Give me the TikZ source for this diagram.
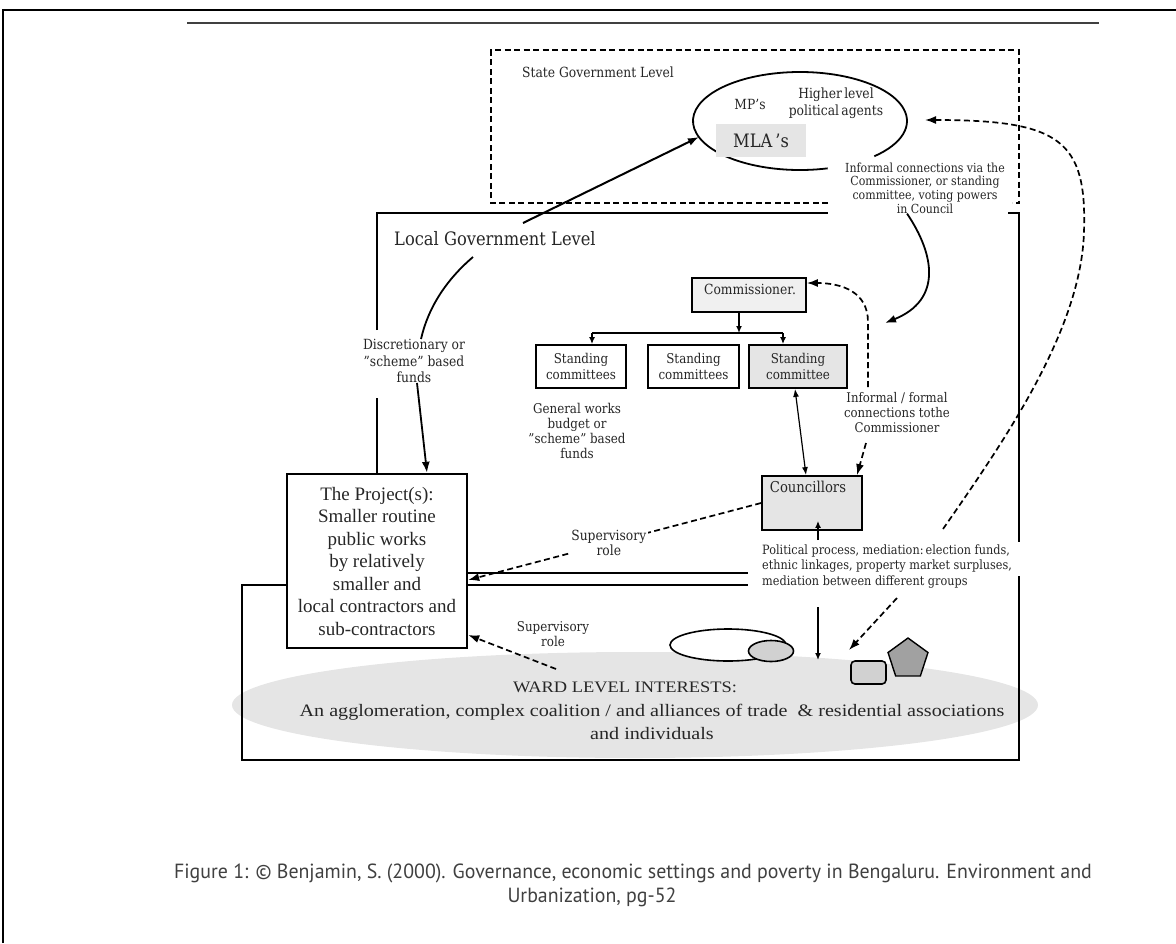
\documentclass[tikz,border=0pt]{standalone}
\usepackage{fontspec}
\setmainfont{DejaVu Serif}[FakeStretch=0.88]
\newfontfamily\timesf{Liberation Serif}
\newfontfamily\timesw{Liberation Serif}[FakeStretch=1.15]
\newfontfamily\capf{PT Sans}[FakeStretch=0.97]
\usetikzlibrary{arrows.meta,shapes.geometric}
\newcommand\fsz[2]{\fontsize{#1}{#2}\selectfont}
\definecolor{txt}{gray}{0.15}
\definecolor{lgray}{gray}{0.90}
\definecolor{mgray}{gray}{0.82}
\definecolor{dgray}{gray}{0.63}
\tikzset{
  every node/.style={inner sep=0pt, text=txt},
  thickln/.style={line width=2.4pt},
  thinln/.style={line width=1.5pt},
  dsh/.style={dashed, dash pattern=on 6pt off 3.5pt, line width=1.7pt},
  arr/.style={-{Latex[length=11pt,width=8pt]}},
  sarr/.style={-{Latex[length=7pt,width=6pt]}},
  cbox/.style={draw, line width=1.8pt, minimum height=43pt, align=center, font=\fsz{13.5}{16}},
}
\begin{document}
\begin{tikzpicture}[x=1pt,y=-1pt]
\useasboundingbox (0,0) rectangle (1176,943);
% outer frame and rule
\draw[line width=2pt] (3,943) -- (3,10) -- (1176,10);
\draw[line width=2.2pt, black!75] (187,23) -- (1099,23);

% ward ellipse (background)
\node[ellipse, fill=lgray, minimum width=806pt, minimum height=106pt] (ward) at (635,705) {};

% state government dashed box
\draw[dsh] (828,203) -- (491,203) -- (491,50) -- (1019,50) -- (1019,203) -- (1012,203);
\node[anchor=west, font=\fsz{14}{16}] (stl) at (522,72) {State Government Level};

% MP/MLA ellipse
\coordinate (ell) at (800,121);
\draw[line width=1.8pt] ([shift={(75:107 and 49)}]ell) arc[start angle=75, end angle=406, x radius=107, y radius=49];
\node[font=\fsz{14}{16}] (mp) at (750,104) {MP's};
\node[align=center, font=\fsz{14}{17}] (hla) at (836,103) {Higher\,level\\political\,agents};
\node[fill=lgray, minimum width=90pt, minimum height=33pt, font=\fsz{18.5}{20}] (mla) at (761,140.5) {MLA\,'s};
\node[align=center, font=\fsz{12.5}{13.7}] (infc) at (925,188) {Informal connections via the\\Commissioner, or standing\\committee, voting powers\\in Council};

% local government box
\draw[thickln] (377,330) -- (377,213) -- (828,213);
\draw[thickln] (1008,213) -- (1019,213) -- (1019,542);
\draw[thickln] (377,398) -- (377,474);
\draw[thickln] (467,573) -- (748,573);
\node[anchor=west, font=\fsz{18.5}{20}] (lgl) at (394,239) {Local Government Level};

% ward box
\draw[thinln] (287,585) -- (242,585) -- (242,760) -- (1019,760) -- (1019,576);
\draw[thinln] (467,585) -- (748,585);

% MLA arrow
\coordinate (m0) at (523,223);
\coordinate (ma) at (699,137);
\draw[line width=2pt, arr] (m0) -- (ma);

% Discretionary
\node[align=center, font=\fsz{14}{16.5}] (disc) at (414,361) {Discretionary or\\"scheme" based\\funds};
\coordinate (dc1) at (473,257);
\draw[line width=1.8pt] (dc1) .. controls (446,280) and (428,308) .. ([xshift=7pt]disc.north);

% project box
\node[draw, line width=2.4pt, minimum width=180pt, minimum height=174pt, align=center, font=\timesf\fsz{19}{22.5}] (proj) at (377,561)
 {The Project(s):\\Smaller routine\\public works\\by relatively\\smaller and\\local contractors and\\sub-contractors};
\draw[line width=1.8pt, arr] ([xshift=3pt]disc.south) -- ([xshift=50pt]proj.north);

% commissioner and committees
\node[draw, fill=gray!12, line width=1.6pt, minimum width=114pt, minimum height=34pt] (comm) at (749,295) {};
\node[font=\fsz{14}{16}] (commt) at (750,289) {Commissioner.};
\node[cbox, minimum width=90pt] (sc1) at (581,366.5) {Standing\\committees};
\node[cbox, minimum width=91pt] (sc2) at (693.5,366.5) {Standing\\committees};
\node[cbox, minimum width=98pt, fill=lgray] (sc3) at (798,366.5) {Standing\\committee};
\coordinate (tr) at (739,333);
\coordinate (trl) at (592,333);
\coordinate (trr) at (783,333);
\draw[line width=1.6pt, sarr] (tr |- comm.south) -- (tr);
\draw[line width=1.6pt] (trl) -- (trr);
\draw[line width=1.6pt, sarr] (trl) -- (trl |- sc1.north);
\draw[line width=1.6pt, sarr] (trr) -- (trr |- sc3.north);
\node[align=center, font=\fsz{13.5}{15.3}] (gw) at (577,431) {General works\\budget or\\"scheme" based\\funds};

% councillors
\node[draw, fill=lgray, line width=1.8pt, minimum width=100pt, minimum height=54pt] (coun) at (812,503) {};
\node[font=\fsz{15}{17}] (count) at (808,487) {Councillors};
\draw[line width=1.2pt, {Latex[length=8pt,width=6pt]}-{Latex[length=8pt,width=6pt]}] ([xshift=-3pt]sc3.south) -- ([xshift=-6pt]coun.north);

% informal / formal connections
\node[align=center, font=\fsz{13.3}{15}] (iff) at (897,413) {Informal / formal\\connections tothe\\Commissioner};
\coordinate (d1) at (868,387);
\draw[dsh, arr] (d1) -- (868,322) .. controls (868,292) and (842,283) .. ([yshift=12pt]comm.east);
\coordinate (d2) at (866,443);
\draw[dsh, arr] (d2) -- ([xshift=45pt]coun.north);
% curve from informal connections (state) to the committees
\coordinate (ic) at (885,323);
\draw[line width=1.8pt, arr] ([xshift=-18pt]infc.south) .. controls (935,255) and (942,300) .. (ic);

% supervisory role (upper)
\draw[dsh, arr] (coun.west) -- ([yshift=-19pt]proj.east)
  node[pos=0.52, fill=white, inner sep=2pt, align=center, font=\fsz{14}{15}] (sup1) {Supervisory\\role};

% political process
\node[anchor=west, align=left, font=\fsz{12.8}{15.5}] (pp) at (762,566.5) {Political process, mediation:\,election funds,\\ethnic linkages, property market\ surpluses,\\mediation between different groups};
\coordinate (pp1) at (818,540);
\draw[line width=1.6pt, sarr] (pp1) -- ([xshift=6pt,yshift=10pt]coun.south);
\coordinate (pp2) at (818,607);
\coordinate (wd) at (818,660);
\draw[line width=1.4pt, sarr] (pp2) -- (wd);
\coordinate (pd) at (897,598);
\coordinate (pq) at (849,650);
\draw[dsh, arr] (pd) -- (pq);

% long dashed curve to the MP/MLA ellipse
\coordinate (lc) at (943,529);
\coordinate (ee) at (925,120);
\draw[dsh, arr] (lc) .. controls (1005,440) and (1081,330) .. (1084,232) .. controls (1087,140) and (1060,120) .. (ee);

% small shapes
\node[ellipse, draw, fill=white, line width=1.6pt, minimum width=116pt, minimum height=32pt] (we) at (728,645) {};
\node[ellipse, draw, fill=mgray, line width=1.6pt, minimum width=45pt, minimum height=21pt] (ge) at (771,651) {};
\node[regular polygon, regular polygon sides=5, draw, fill=dgray, line width=1.4pt, minimum size=42pt] (pent) at (908,659) {};
\node[draw, rounded corners=4pt, fill=mgray, line width=1.6pt, minimum width=35pt, minimum height=23pt] (sq) at (868.5,672.5) {};

% ward texts
\node[align=center, font=\fsz{13.5}{15}] (sup2) at (553,634) {Supervisory\\role};
\coordinate (s2) at (556,669);
\draw[dsh, arr] (s2) -- ([yshift=-74pt]proj.east);
\node[font=\timesw\fsz{16}{19}] (wt) at (625,687) {WARD LEVEL INTERESTS:};
\node[align=center, font=\timesw\fsz{17.5}{23}] (wt2) at (652,721.5) {An agglomeration, complex coalition / and alliances of trade\ \ \& residential associations\\and individuals};

% caption
\node[font=\capf\fsz{20.5}{22}, text=black!75] (cap1) at (633,873) {Figure 1: \textcopyright\ Benjamin, S. (2000). Governance, economic settings and poverty in Bengaluru. Environment and};
\node[font=\capf\fsz{20.5}{22}, text=black!75] (cap2) at (592,897) {Urbanization, pg-52};
\end{tikzpicture}
\end{document}
